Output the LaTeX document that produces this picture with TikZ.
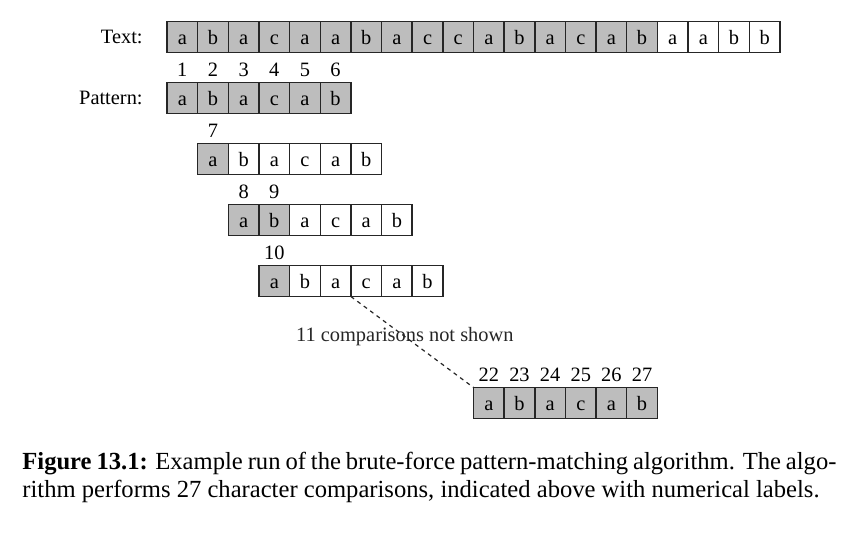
\documentclass[tikz,border=0pt]{standalone}
\usepackage{fontspec}
\setmainfont{Liberation Serif}
\usetikzlibrary{positioning}

\tikzset{
  cell/.style={draw=black!85, line width=0.7pt, minimum width=15.3pt, minimum height=15.5pt,
    inner sep=0pt, outer sep=0pt, text height=7.5pt, text depth=-2.8pt,
    font=\fontsize{10.2}{12}\selectfont},
  hit/.style={cell, fill=black!26},
  num/.style={inner sep=0pt, outer sep=0pt, font=\fontsize{10.2}{12}\selectfont},
  lbl/.style={inner sep=0pt, font=\fontsize{10.2}{12}\selectfont},
  skipline/.style={black!85, line width=0.6pt, dash pattern=on 2pt off 2pt}
}

\begin{document}
\begin{tikzpicture}[x=0.5pt, y=0.5pt]
\useasboundingbox (0,0) rectangle (863,-553);

% text row
\foreach \ch [count=\i] in {a,b,a,c,a,a,b,a,c,c,a,b,a,c,a,b,a,a,b,b} {
  \ifnum\i<17 \def\st{hit}\else\def\st{cell}\fi
  \node[\st] (t\i) at ({167+(\i-0.5)*30.65},-37) {\ch};
}
\node[lbl, left=12pt of t1] (textlbl) {Text:};

% pattern rows: row/shift/compared cells/first number
\foreach \r/\s/\g/\n in {1/0/6/1, 2/1/1/7, 3/2/2/8, 4/3/1/10, 6/10/6/22} {
  \foreach \ch [count=\j] in {a,b,a,c,a,b} {
    \ifnum\j>\g \def\st{cell}\else\def\st{hit}\fi
    \node[\st] (p\r-\j) at ({167+(\s+\j-0.5)*30.65},{-37-61*\r}) {\ch};
    \ifnum\j>\g\else
      \pgfmathtruncatemacro\k{\n+\j-1}
      \node[num, above=3pt of p\r-\j] (n\k) {\k};
    \fi
  }
}
\node[lbl, left=12pt of p1-1] (patlbl) {Pattern:};

% skipped shifts
\draw[skipline] (p4-3.south east) -- node[lbl, pos=0.44] (skip) {11 comparisons not shown} (p6-1.north west);

% caption
\node[anchor=north west, align=left, inner sep=0pt,
  font=\fontsize{12.3}{14}\selectfont] (caption) at (22,-452)
  {\makebox[407pt][s]{\textbf{Figure 13.1:} Example run of the brute-force pattern-matching algorithm. The algo-}\\
   rithm performs 27 character comparisons, indicated above with numerical labels.};
\end{tikzpicture}
\end{document}
